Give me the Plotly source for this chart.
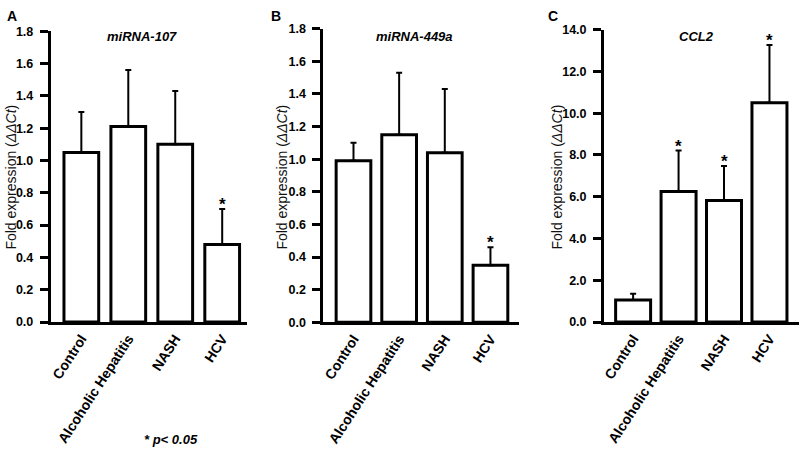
import plotly.graph_objects as go

categories = ["Control", "Alcoholic Hepatitis", "NASH", "HCV"]

mirna107_mean = [1.05, 1.21, 1.10, 0.48]
mirna107_err = [0.25, 0.35, 0.33, 0.22]
mirna107_sig = [False, False, False, True]

mirna449a_mean = [0.99, 1.15, 1.04, 0.35]
mirna449a_err = [0.11, 0.38, 0.39, 0.11]
mirna449a_sig = [False, False, False, True]

ccl2_mean = [1.05, 6.25, 5.82, 10.50]
ccl2_err = [0.31, 1.96, 1.65, 2.76]
ccl2_sig = [False, True, True, True]

W, H = 800, 457
FONT = "Liberation Sans, Arial, sans-serif"

def px(x):
    return x / W

def py(y):
    return 1 - y / H

panels = [
    dict(name="miRNA-107", letter="A", mean=mirna107_mean, err=mirna107_err, sig=mirna107_sig,
         xdom=(48, 245), ydom=(325, 25), xr=(-0.65, 3.53), yr=(0, 1.8), dtick=0.2,
         bw=0.74, title_x=140, letter_x=2, ytitle_x=8),
    dict(name="miRNA-449a", letter="B", mean=mirna449a_mean, err=mirna449a_err, sig=mirna449a_sig,
         xdom=(321.7, 517.7), ydom=(325.3, 22.3), xr=(-0.657, 3.62), yr=(0, 1.8), dtick=0.2,
         bw=0.76, title_x=413, letter_x=267, ytitle_x=280),
    dict(name="CCL2", letter="C", mean=ccl2_mean, err=ccl2_err, sig=ccl2_sig,
         xdom=(603.3, 799), ydom=(325, 23.3), xr=(-0.64, 3.65), yr=(0, 14), dtick=2,
         bw=0.77, title_x=696, letter_x=545, ytitle_x=556),
]

fig = go.Figure()
layout = dict(
    width=W, height=H, margin=dict(l=0, r=0, t=0, b=0),
    paper_bgcolor="white", plot_bgcolor="white", showlegend=False,
    font=dict(family=FONT, color="black"),
)
annotations = []

for i, p in enumerate(panels):
    sfx = "" if i == 0 else str(i + 1)
    xa, ya = "x" + sfx, "y" + sfx
    fig.add_trace(go.Bar(
        x=categories, y=p["mean"], xaxis=xa, yaxis=ya, width=p["bw"],
        marker=dict(color="white", line=dict(color="black", width=3)),
        error_y=dict(type="data", array=p["err"], arrayminus=[0] * 4, symmetric=False,
                     color="black", thickness=2, width=3),
        hoverinfo="skip",
    ))
    layout["xaxis" + sfx] = dict(
        domain=[px(p["xdom"][0]), px(p["xdom"][1])], anchor=ya, range=list(p["xr"]),
        type="category", showline=True, linecolor="black", linewidth=3, ticks="",
        showgrid=False, zeroline=False, tickangle=-57,
        tickfont=dict(family=FONT, size=14, color="black", weight="bold"),
    )
    layout["yaxis" + sfx] = dict(
        domain=[py(p["ydom"][0]), py(p["ydom"][1])], anchor=xa, range=list(p["yr"]),
        dtick=p["dtick"], tick0=0, tickformat=".1f", showline=True, linecolor="black",
        linewidth=3, ticks="outside", ticklen=8, tickwidth=3, tickcolor="black",
        showgrid=False, zeroline=False, ticklabelstandoff=4,
        tickfont=dict(family=FONT, size=12.5, color="black", weight="bold"),
    )
    # panel title
    annotations.append(dict(
        text="<b><i>%s</i></b>" % p["name"], x=px(p["title_x"]), y=py(30), xref="paper", yref="paper",
        showarrow=False, xanchor="center", yanchor="middle", font=dict(size=13, family=FONT)))
    # panel letter
    annotations.append(dict(
        text="<b>%s</b>" % p["letter"], x=px(p["letter_x"]), y=py(9), xref="paper", yref="paper",
        showarrow=False, xanchor="left", yanchor="middle", font=dict(size=14, family=FONT)))
    # y title
    annotations.append(dict(
        text="Fold expression (<i>ΔΔCt</i>)", x=px(p["ytitle_x"]), y=py(175), xref="paper", yref="paper",
        showarrow=False, textangle=-90, xanchor="center", yanchor="middle",
        font=dict(size=14, family=FONT, color="#111111")))
    # significance stars
    for c, m, e, s in zip(categories, p["mean"], p["err"], p["sig"]):
        if s:
            annotations.append(dict(
                text="<b>*</b>", x=c, y=m + e, xref=xa, yref=ya, showarrow=False,
                xanchor="center", yanchor="bottom", yshift=-7, font=dict(size=17, family=FONT)))

annotations.append(dict(
    text="<b><i>* p< 0.05</i></b>", x=px(169), y=py(446), xref="paper", yref="paper",
    showarrow=False, xanchor="center", yanchor="middle", font=dict(size=13, family=FONT)))

layout["annotations"] = annotations
fig.update_layout(**layout)
fig.write_html("out.html", config={"displayModeBar": False},
               post_script="document.body.style.margin='0';")
